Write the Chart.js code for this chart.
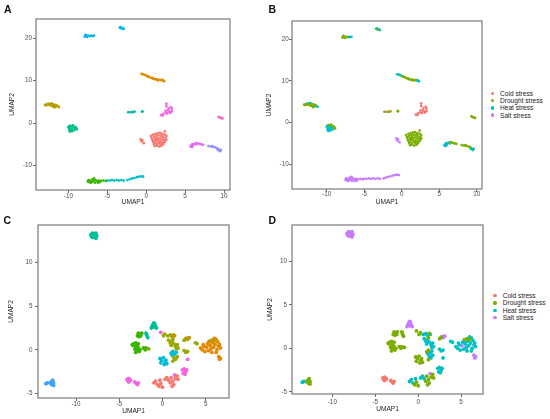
<!DOCTYPE html>
<html>
<head>
<meta charset="utf-8">
<script src="https://cdn.jsdelivr.net/npm/chart.js@4.4.1/dist/chart.umd.min.js"></script>
<style>
    body { margin: 0; background: #ffffff; }
    #figure { position: relative; width: 550px; height: 419px; overflow: hidden; font-family: "Liberation Sans", Arial, sans-serif; }
    #figure canvas { position: absolute; }
    .panel-letter { position: absolute; font-size: 10.5px; line-height: 10.5px; font-weight: bold; color: #111; }
    .legend-row { position: absolute; font-size: 6.6px; line-height: 7.3px; color: #222; white-space: nowrap; }
    .legend-dot { position: absolute; width: 3.6px; height: 3.6px; border-radius: 50%; }
</style>
</head>
<body>
<div id="figure"></div>
<script>
// UMAP scatter figure, panels A-D

// Stress groups (colour legend for panels B and D)
const stressLabels = ['Cold stress', 'Drought stress', 'Heat stress', 'Salt stress'];
const stressColors = ['#F8766D', '#7CAE00', '#00BFC4', '#C77CFF'];

// Tick labels
const abTicksX = [-10, -5, 0, 5, 10];
const abTicksY = [-10, 0, 10, 20];
const cdTicksX = [-10, -5, 0, 5];
const cdTicksY = [-5, 0, 5, 10];

// Panels A/B points, grouped by cluster: [UMAP1, UMAP2, stress index]
const abSalmon = [
    [0.6, -3.0, 1], [0.9, -2.7, 1], [1.2, -2.5, 1], [1.5, -2.4, 1], [1.8, -2.3, 1], [2.1, -2.5, 1],
    [2.4, -2.7, 1], [2.6, -3.0, 1], [2.4, -1.9, 1], [0.7, -3.5, 1], [1.0, -3.2, 1], [1.3, -3.0, 1],
    [1.6, -2.9, 1], [1.9, -3.1, 1], [2.2, -3.3, 1], [2.5, -3.5, 1], [0.8, -4.0, 1], [1.1, -3.7, 1],
    [1.4, -3.5, 1], [1.7, -3.6, 1], [2.0, -3.8, 1], [2.3, -4.0, 1], [2.6, -3.9, 1], [0.9, -4.4, 1],
    [1.2, -4.2, 1], [1.5, -4.1, 1], [1.8, -4.3, 1], [2.1, -4.5, 1], [2.4, -4.4, 1], [1.0, -4.9, 1],
    [1.3, -4.8, 1], [1.6, -4.7, 1], [1.9, -5.0, 1], [2.2, -4.9, 1], [1.1, -5.4, 1], [1.4, -5.3, 1],
    [1.7, -5.5, 1], [2.0, -5.3, 1], [1.3, -3.9, 1], [1.8, -4.8, 1], [2.0, -2.8, 1], [1.0, -4.6, 1],
    [-0.7, -3.8, 3], [-0.5, -4.0, 3], [-0.3, -4.7, 3], [-0.6, -4.3, 3]
];
const abOrange = [
    [-0.6, 11.6, 2], [-0.4, 11.5, 2], [-0.2, 11.4, 2], [0.0, 11.2, 2], [0.1, 11.1, 1], [0.2, 11.0, 1],
    [0.4, 10.9, 1], [0.6, 10.7, 1], [0.8, 10.6, 1], [0.9, 10.5, 1], [1.0, 10.4, 1], [1.2, 10.3, 1],
    [1.4, 10.3, 1], [1.5, 10.1, 1], [1.6, 10.2, 1], [1.8, 10.2, 1], [2.0, 10.1, 2], [2.1, 10.2, 2],
    [2.2, 10.0, 2], [2.3, 9.9, 2]
];
const abOlive = [
    [-13.0, 4.3, 1], [-12.9, 4.2, 1], [-12.8, 4.4, 1], [-12.6, 4.3, 1], [-12.6, 4.6, 2], [-12.4, 4.5, 2],
    [-12.3, 4.2, 1], [-12.2, 4.7, 2], [-12.1, 4.0, 1], [-12.0, 4.5, 1], [-11.9, 4.1, 1], [-11.8, 3.7, 1],
    [-11.7, 4.3, 1], [-11.6, 3.9, 2], [-11.5, 4.2, 1], [-11.4, 4.0, 2], [-11.2, 3.8, 2]
];
const abGreen = [
    [-7.5, -13.7, 3], [-7.4, -13.4, 3], [-7.3, -13.9, 3], [-7.2, -13.5, 3], [-7.0, -13.8, 3], [-6.9, -13.2, 3],
    [-6.8, -13.6, 3], [-6.7, -13.0, 3], [-6.6, -14.0, 3], [-6.5, -13.4, 3], [-6.3, -13.7, 3], [-6.2, -14.0, 3],
    [-6.1, -13.5, 3], [-6.0, -13.9, 3], [-5.8, -13.6, 3], [-5.5, -13.5, 3], [-5.2, -13.6, 3], [-7.1, -14.0, 3]
];
const abTeal = [
    [-10.0, -1.0, 2], [-9.9, -0.7, 2], [-9.8, -1.3, 2], [-9.7, -0.6, 1], [-9.6, -1.0, 2], [-9.5, -1.5, 2],
    [-9.4, -0.8, 2], [-9.3, -1.2, 2], [-9.7, -1.7, 2], [-9.9, -1.6, 2], [-9.2, -1.6, 2], [-9.0, -1.1, 1],
    [-8.9, -1.4, 1], [-9.5, -1.9, 2], [-9.8, -2.0, 2], [-9.4, -0.5, 1], [-9.1, -0.9, 1], [-9.6, -1.3, 2]
];
const abCyan = [
    [-5.0, -13.5, 3], [-4.7, -13.5, 3], [-4.4, -13.4, 3], [-4.1, -13.5, 3], [-3.8, -13.4, 3], [-3.5, -13.5, 3],
    [-3.2, -13.4, 3], [-2.9, -13.5, 3], [-2.4, -13.4, 3], [-2.1, -13.2, 3], [-1.8, -13.0, 3], [-1.5, -12.9, 3],
    [-1.2, -12.7, 3], [-0.9, -12.6, 3], [-0.6, -12.5, 3], [-0.4, -12.6, 3]
];
const abBlue = [
    [-7.9, 20.4, 1], [-7.8, 20.8, 1], [-7.7, 20.7, 1], [-7.6, 20.3, 1], [-7.5, 20.6, 1], [-7.3, 20.5, 1],
    [-7.1, 20.6, 2], [-6.9, 20.5, 2], [-6.7, 20.6, 2],
    [-3.4, 22.5, 2], [-3.3, 22.6, 2], [-3.2, 22.3, 1], [-3.0, 22.4, 2], [-2.9, 22.2, 2]
];
const abSmall = [
    [-2.3, 2.6, 1], [-2.0, 2.6, 1], [-1.7, 2.6, 1], [-1.5, 2.7, 1], [-0.5, 2.7, 1], [-0.5, 2.8, 1]
];
const abPink = [
    [2.6, 4.6, 0], [2.6, 4.0, 0], [3.2, 3.8, 0], [3.3, 3.4, 0], [2.8, 3.0, 0], [3.0, 2.7, 0],
    [2.5, 2.5, 0], [2.2, 2.2, 0], [1.9, 1.9, 0], [2.5, 2.9, 0], [3.1, 2.4, 0], [2.7, 2.3, 0],
    [3.3, 2.8, 0], [2.9, 3.5, 0], [2.1, 1.8, 0], [-1.9, 2.6, 0]
];
const abRose = [
    [9.3, 1.5, 1], [9.5, 1.3, 1], [9.7, 1.2, 1], [9.8, 1.1, 1]
];
const abMagenta = [
    [5.7, -5.5, 2], [5.8, -5.2, 2], [5.9, -5.0, 2], [5.9, -5.6, 2], [6.0, -5.3, 2], [6.1, -4.9, 2],
    [6.3, -4.8, 2], [6.4, -5.0, 2], [6.5, -4.7, 1], [6.7, -4.8, 1], [6.9, -4.9, 1], [7.1, -5.0, 1],
    [7.3, -5.1, 1]
];
const abViolet = [
    [8.0, -5.4, 1], [8.3, -5.5, 1], [8.5, -5.4, 1], [8.6, -5.6, 1], [8.9, -5.7, 1], [9.1, -5.9, 1],
    [9.2, -6.3, 2], [9.3, -6.1, 2], [9.4, -6.4, 2], [9.5, -6.6, 2], [9.6, -6.3, 2]
];
const abClusters = [abSalmon, abOrange, abOlive, abGreen, abTeal, abCyan, abBlue, abSmall, abPink, abRose, abMagenta, abViolet];
const abClusterColors = ['#F8766D', '#DE8C00', '#B79F00', '#39B600', '#00C08B', '#00BFC4', '#00B4F0', '#00BFB0', '#F564E3', '#FF64B0', '#E36EF6', '#9590FF'];

// Panels C/D points, grouped by cluster: [UMAP1, UMAP2, stress index]
const cdSalmon = [
    [-1.0, -3.8, 2], [-0.8, -3.6, 2], [-0.6, -4.0, 2], [-0.4, -4.2, 1], [-0.2, -3.9, 1], [0.0, -4.3, 1],
    [-0.3, -3.5, 2], [0.3, -3.4, 2], [0.5, -3.2, 2], [0.7, -3.5, 2], [0.9, -3.8, 1], [1.0, -3.2, 1],
    [1.2, -3.6, 1], [1.3, -4.0, 1], [1.1, -4.2, 1], [1.5, -3.3, 1], [1.7, -3.0, 1], [1.8, -3.4, 1]
];
const cdOrange = [
    [4.4, 0.2, 2], [4.6, 0.0, 2], [4.8, 0.4, 2], [4.9, -0.2, 2], [5.1, 0.3, 3], [5.2, 0.7, 2],
    [5.3, -0.1, 2], [5.5, 0.5, 2], [5.6, 0.1, 2], [5.7, -0.3, 2], [5.8, 0.8, 2], [5.9, 0.3, 2],
    [6.1, 0.6, 2], [6.2, 1.2, 2], [6.3, 0.0, 2], [6.4, 0.9, 2], [6.5, 0.4, 2], [6.6, 0.6, 2],
    [6.0, 1.3, 2], [5.4, 0.9, 2], [4.7, 0.6, 2], [6.7, 0.2, 2], [6.2, -0.3, 2], [3.0, 1.4, 3],
    [1.4, 1.6, 2], [6.5, -0.8, 3], [6.7, -1.0, 3], [6.6, -1.1, 3]
];
const cdOlive = [
    [0.1, 1.6, 1], [0.25, 1.8, 1], [0.6, 1.6, 2], [0.9, 1.7, 2], [1.1, 1.5, 2], [1.3, 1.7, 1],
    [0.7, 1.1, 2], [0.9, 0.8, 2], [1.1, 1.0, 2], [1.3, 0.7, 2], [1.0, 0.5, 2], [1.5, 0.4, 2],
    [1.7, 0.6, 2], [1.8, 0.2, 2], [1.2, 1.2, 1], [1.6, 0.1, 2],
    [2.5, 1.1, 1], [2.7, 1.3, 1], [2.9, 1.2, 3], [3.1, 1.4, 3], [3.8, 0.8, 2], [4.0, 0.7, 2],
    [2.5, -0.1, 2], [2.7, -0.3, 2], [2.9, -0.2, 2], [1.3, -0.9, 2], [1.5, -1.1, 2], [1.7, -0.8, 2],
    [1.2, -1.3, 1], [5.4, 1.0, 1], [5.7, 1.1, 1], [6.0, 1.0, 1], [-1.6, 0.1, 1]
];
const cdGreen = [
    [-2.9, 1.6, 1], [-2.8, 1.9, 1], [-2.7, 1.5, 1], [-2.6, 1.8, 1], [-2.5, 1.6, 1], [-2.7, 1.7, 1],
    [-2.4, 1.9, 1], [-3.5, 0.6, 1], [-3.3, 0.7, 1], [-3.1, 0.8, 1], [-2.9, 0.6, 1], [-3.2, 0.5, 1],
    [-3.0, 0.4, 1], [-2.8, 0.7, 1], [-3.4, 0.5, 1], [-3.2, 0.1, 1], [-3.0, -0.1, 1], [-2.8, 0.2, 1],
    [-2.7, -0.2, 1], [-3.1, -0.3, 1], [-2.9, 0.0, 1], [-2.6, 0.0, 1], [-2.2, 0.2, 1], [-2.0, 0.0, 1],
    [-1.9, 0.2, 1]
];
const cdTeal = [
    [-8.3, 13.2, 3], [-8.1, 13.4, 3], [-7.9, 13.3, 3], [-7.7, 13.4, 3], [-7.6, 13.1, 3], [-7.8, 12.9, 3],
    [-8.1, 12.9, 3], [-8.2, 13.0, 3], [-7.9, 13.1, 3], [-7.7, 12.8, 3],
    [-1.3, 2.5, 3], [-1.2, 2.7, 3], [-1.1, 2.9, 3], [-1.0, 3.1, 3], [-0.9, 3.0, 3], [-0.8, 2.7, 3],
    [-0.7, 2.5, 3], [-1.0, 2.6, 3], [-1.05, 2.8, 3],
    [-1.9, 1.9, 1], [-1.8, 1.6, 1], [-1.7, 1.4, 1], [-1.85, 1.75, 1]
];
const cdCyan = [
    [-0.3, -1.0, 1], [-0.1, -1.2, 1], [0.1, -0.9, 1], [-0.2, -1.5, 1], [0.3, -1.4, 1], [0.5, -1.6, 1],
    [0.4, -1.2, 1], [0.2, -1.7, 1], [1.0, -0.4, 1], [1.2, -0.2, 1], [1.4, -0.5, 2], [1.6, -0.3, 2],
    [1.1, -0.6, 2]
];
const cdBlue = [
    [-13.5, -3.9, 2], [-13.3, -3.8, 2], [-12.9, -3.7, 1], [-12.7, -3.5, 1], [-12.6, -3.8, 1], [-12.8, -4.0, 1],
    [-12.6, -4.1, 1], [-12.9, -3.9, 1]
];
const cdPink = [
    [2.3, -2.3, 2], [2.5, -2.2, 2], [2.7, -2.5, 2], [2.4, -2.7, 2], [2.6, -2.8, 2], [2.8, -2.3, 2],
    [-4.1, -3.4, 0], [-3.9, -3.3, 0], [-3.7, -3.5, 0], [-3.9, -3.7, 0], [-4.0, -3.6, 0],
    [-3.2, -3.7, 0], [-3.0, -3.9, 0], [-2.8, -3.8, 0], [-2.9, -4.0, 0],
    [-0.2, 2.0, 1], [2.9, -1.1, 2], [1.4, -2.9, 3]
];
const cdClusters = [cdSalmon, cdOrange, cdOlive, cdGreen, cdTeal, cdCyan, cdBlue, cdPink];
const cdClusterColors = ['#F8766D', '#E58700', '#99A800', '#39B600', '#00BF9A', '#00BCD8', '#3DA1FF', '#F564E3'];

// Panel layout: plot area in page pixels, axis limits and label spacing
const panels = [
    { id: 'A', left: 36, top: 19, right: 230, bottom: 190, xMin: -14.16, xMax: 10.77, yMin: -15.73, yMax: 24.53,
      ticksX: abTicksX, ticksY: abTicksY, clusters: abClusters, colors: abClusterColors, byStress: false,
      radius: 1.35, yPad: 1, xPad: 0.3, yTitleGap: 24.3, xTitleGap: 11.7 },
    { id: 'B', left: 292, top: 21, right: 482, bottom: 189, xMin: -14.63, xMax: 10.71, yMin: -15.93, yMax: 24.38,
      ticksX: abTicksX, ticksY: abTicksY, clusters: abClusters, byStress: true,
      radius: 1.35, yPad: 0.3, xPad: -1.2, yTitleGap: 22.8, xTitleGap: 12.7 },
    { id: 'C', left: 38, top: 225, right: 229, bottom: 398, xMin: -14.4, xMax: 7.69, yMin: -5.54, yMax: 14.33,
      ticksX: cdTicksX, ticksY: cdTicksY, clusters: cdClusters, colors: cdClusterColors, byStress: false,
      radius: 1.9, yPad: 2.5, xPad: 0.3, yTitleGap: 26.9, xTitleGap: 13.5 },
    { id: 'D', left: 292, top: 225, right: 483, bottom: 394, xMin: -14.7, xMax: 7.56, yMin: -5.25, yMax: 14.17,
      ticksX: cdTicksX, ticksY: cdTicksY, clusters: cdClusters, byStress: true,
      radius: 1.9, yPad: 2, xPad: 1.8, yTitleGap: 21.5, xTitleGap: 15 }
];

// Letter and legend placement
const letterPositions = { A: [4, 4.4], B: [268.5, 4.4], C: [3.5, 215.3], D: [268.5, 215.3] };
const legendPositions = { B: { dotX: 492.7, textX: 500, rowY: 93.3 }, D: { dotX: 495, textX: 502.7, rowY: 295.7 } };
const legendStep = 7.3;

const Y_AXIS_WIDTH = 36;
const X_AXIS_HEIGHT = 20;
const TICK_FONT = { family: '"Liberation Sans", Arial, sans-serif', size: 6.3, lineHeight: 1 };
const TITLE_FONT = { family: '"Liberation Sans", Arial, sans-serif', size: 6.6, lineHeight: 1 };

// Grey ggplot-style panel border
const panelFrame = {
    id: 'panelFrame',
    afterDraw(chart) {
        const { ctx, chartArea: a } = chart;
        ctx.save();
        ctx.strokeStyle = '#7a7a7a';
        ctx.lineWidth = 1.2;
        ctx.strokeRect(a.left, a.top, a.right - a.left, a.bottom - a.top);
        ctx.restore();
    }
};

function toPoint(p) {
    return { x: p[0], y: p[1] };
}

// One dataset per cluster (panels A and C)
function clusterDatasets(panel) {
    return panel.clusters.map((pts, i) => ({
        label: 'Cluster ' + (i + 1),
        data: pts.map(toPoint),
        backgroundColor: panel.colors[i],
        borderWidth: 0,
        pointRadius: panel.radius
    }));
}

// One dataset per stress group (panels B and D)
function stressDatasets(panel) {
    const all = panel.clusters.flat();
    return stressLabels.map((label, s) => ({
        label: label,
        data: all.filter(p => p[2] === s).map(toPoint),
        backgroundColor: stressColors[s],
        borderWidth: 0,
        pointRadius: panel.radius
    }));
}

function axisOptions(panel, horizontal) {
    const ticks = horizontal ? panel.ticksX : panel.ticksY;
    return {
        type: 'linear',
        min: horizontal ? panel.xMin : panel.yMin,
        max: horizontal ? panel.xMax : panel.yMax,
        afterBuildTicks: scale => { scale.ticks = ticks.map(v => ({ value: v })); },
        afterFit: scale => {
            if (horizontal) scale.height = X_AXIS_HEIGHT;
            else scale.width = Y_AXIS_WIDTH;
        },
        border: { display: false },
        grid: { drawOnChartArea: false, drawTicks: true, tickLength: 3, color: '#444444', lineWidth: 0.8 },
        ticks: {
            font: TICK_FONT,
            color: '#4d4d4d',
            padding: horizontal ? panel.xPad : panel.yPad,
            maxRotation: 0,
            autoSkip: false
        },
        title: {
            display: true,
            text: horizontal ? 'UMAP1' : 'UMAP2',
            font: TITLE_FONT,
            color: '#222222',
            padding: horizontal
                ? { top: 0, bottom: X_AXIS_HEIGHT - 3.3 - panel.xTitleGap }
                : { top: Y_AXIS_WIDTH - 3.3 - panel.yTitleGap, bottom: 0 }
        }
    };
}

function drawPanel(panel, figure) {
    const x0 = panel.left - Y_AXIS_WIDTH;
    const y0 = panel.top < 200 ? 0 : 210;
    const width = panel.right + 8 - x0;
    const height = panel.bottom + X_AXIS_HEIGHT - y0;

    const canvas = document.createElement('canvas');
    canvas.width = width;
    canvas.height = height;
    canvas.style.left = x0 + 'px';
    canvas.style.top = y0 + 'px';
    canvas.style.width = width + 'px';
    canvas.style.height = height + 'px';
    figure.appendChild(canvas);

    new Chart(canvas.getContext('2d'), {
        type: 'scatter',
        data: { datasets: panel.byStress ? stressDatasets(panel) : clusterDatasets(panel) },
        options: {
            responsive: false,
            animation: false,
            layout: { padding: { top: panel.top - y0, right: 8, bottom: 0, left: 0 } },
            plugins: { legend: { display: false }, tooltip: { enabled: false } },
            scales: { x: axisOptions(panel, true), y: axisOptions(panel, false) }
        },
        plugins: [panelFrame]
    });
}

function addLetter(figure, id) {
    const el = document.createElement('div');
    el.className = 'panel-letter';
    el.textContent = id;
    el.style.left = letterPositions[id][0] + 'px';
    el.style.top = letterPositions[id][1] + 'px';
    figure.appendChild(el);
}

function addLegend(figure, pos) {
    stressLabels.forEach((label, i) => {
        const cy = pos.rowY + i * legendStep;
        const dot = document.createElement('span');
        dot.className = 'legend-dot';
        dot.style.background = stressColors[i];
        dot.style.left = (pos.dotX - 1.8) + 'px';
        dot.style.top = (cy - 1.8) + 'px';
        figure.appendChild(dot);

        const row = document.createElement('div');
        row.className = 'legend-row';
        row.textContent = label;
        row.style.left = pos.textX + 'px';
        row.style.top = (cy - legendStep / 2) + 'px';
        figure.appendChild(row);
    });
}

document.addEventListener('DOMContentLoaded', function() {
    const figure = document.getElementById('figure');
    panels.forEach(panel => {
        drawPanel(panel, figure);
        addLetter(figure, panel.id);
        if (legendPositions[panel.id]) addLegend(figure, legendPositions[panel.id]);
    });
});
</script>
</body>
</html>
